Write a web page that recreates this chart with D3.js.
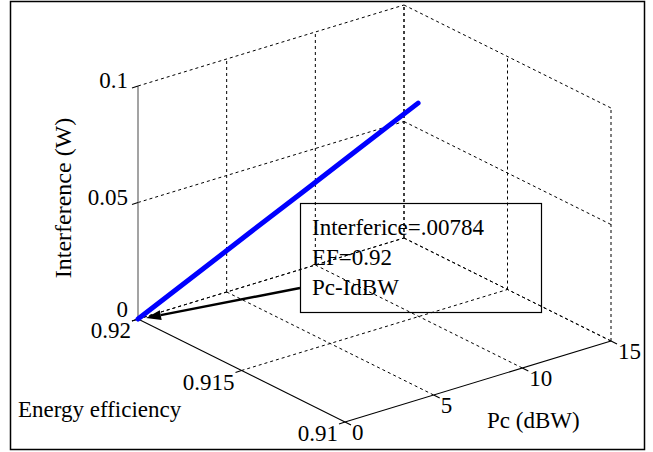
<!DOCTYPE html>
<html><head><meta charset="utf-8">
<script src="https://cdn.jsdelivr.net/npm/d3@7"></script>
<style>
html,body{margin:0;padding:0;background:#fff;}
</style></head>
<body><svg id="chart" width="653" height="452"></svg>
<script>
// ---- data ----
const pcTicks = [0, 5, 10, 15];
const efTicks = [0.92, 0.915, 0.91];
const intTicks = [0, 0.05, 0.1];
const pcTickLabels = ["0", "5", "10", "15"];
const efTickLabels = ["0.92", "0.915", "0.91"];
const intTickLabels = ["0", "0.05", "0.1"];
const seriesPc = [0, 3, 6, 9, 12, 15];
const seriesEf = [0.92, 0.91986, 0.91973, 0.91959, 0.91946, 0.91932];
const seriesInt = [0, 0.0122, 0.0244, 0.0365, 0.0487, 0.0609];
const annotationLines = ["Interferice=.00784", "EF=0.92", "Pc-IdBW"];
const xLabel = "Pc (dBW)", yLabel = "Energy efficiency", zLabel = "Interference (W)";

const FONT = "'Liberation Serif', 'Times New Roman', Tinos, 'DejaVu Serif', serif";

// ---- projection (orthographic, via linear scales) ----
const origin = [138, 319];
const efS = d3.scaleLinear().domain([0.92, 0.91]).range([0, 1]);
const pcS = d3.scaleLinear().domain([0, 15]).range([0, 1]);
const inS = d3.scaleLinear().domain([0, 0.1]).range([0, 1]);
const vEf = [207, 103], vPc = [266, -81], vIn = [0, -233];
function P(pc, ef, it) {
  const a = efS(ef), b = pcS(pc), c = inS(it);
  return [origin[0] + a * vEf[0] + b * vPc[0] + c * vIn[0],
          origin[1] + a * vEf[1] + b * vPc[1] + c * vIn[1]];
}

const svg = d3.select("#chart");
svg.append("rect").attr("x", 10.5).attr("y", 1.5).attr("width", 634).attr("height", 448)
  .attr("fill", "#fff").attr("stroke", "#000").attr("stroke-width", 1.5);

const g = svg.append("g");
const line = d3.line();
const efMin = d3.min(efTicks), efMax = d3.max(efTicks);
const pcMin = d3.min(pcTicks), pcMax = d3.max(pcTicks);
const inMin = d3.min(intTicks), inMax = d3.max(intTicks);

function txt(x, y, s, anchor, size) {
  return g.append("text").attr("x", x).attr("y", y).attr("text-anchor", anchor || "start")
    .attr("font-family", FONT).attr("font-size", size || 23).attr("fill", "#000").text(s);
}
function seg(p1, p2, cls) {
  g.append("path").attr("d", line([p1, p2])).attr("fill", "none")
    .attr("stroke", "#000").attr("stroke-width", cls === "grid" ? 1 : 1.1)
    .attr("stroke-dasharray", cls === "grid" ? "3,3" : null);
}
// grid: back wall (EF = max)
pcTicks.filter(p => p > pcMin).forEach(p => seg(P(p, efMax, inMin), P(p, efMax, inMax), "grid"));
intTicks.forEach(v => seg(P(pcMin, efMax, v), P(pcMax, efMax, v), "grid"));
// grid: right wall (Pc = max)
efTicks.forEach(e => seg(P(pcMax, e, inMin), P(pcMax, e, inMax), "grid"));
intTicks.forEach(v => seg(P(pcMax, efMax, v), P(pcMax, efMin, v), "grid"));
// grid: floor
pcTicks.filter(p => p > pcMin).forEach(p => seg(P(p, efMax, inMin), P(p, efMin, inMin), "grid"));
efTicks.filter(e => e > efMin).forEach(e => seg(P(pcMin, e, inMin), P(pcMax, e, inMin), "grid"));

// axes
g.append("path").attr("d", line([P(pcMin, efMax, inMin), P(pcMin, efMax, inMax)]))
  .attr("stroke", "#666").attr("stroke-width", 1.2).attr("fill", "none");
seg(P(pcMin, efMax, inMin), P(pcMin, efMin, inMin), "axis");
seg(P(pcMin, efMin, inMin), P(pcMax, efMin, inMin), "axis");

// ticks
intTicks.forEach((v, i) => {
  const p = P(pcMin, efMax, v);
  seg(p, [p[0] - 6, p[1] + 2], "axis");
  txt(128, i === 0 ? p[1] - 2 : p[1] + 2, intTickLabels[i], "end");
});
efTicks.forEach((e, i) => {
  const p = P(pcMin, e, inMin);
  seg(p, [p[0] - 6, p[1] + 2], "axis");
  txt(p[0] - 7, p[1] + 19, efTickLabels[i], "end");
});
pcTicks.forEach((pc, i) => {
  const p = P(pc, efMin, inMin);
  seg(p, [p[0] + 6, p[1] + 3], "axis");
  txt(p[0] + 7, p[1] + 18, pcTickLabels[i], "start");
});

// axis labels
g.append("text").attr("transform", "translate(71,198) rotate(-90)").attr("text-anchor", "middle")
  .attr("font-family", FONT).attr("font-size", 24).text(zLabel);
txt(18, 417, yLabel);
txt(487, 428, xLabel);

// series
const pts = seriesPc.map((pc, i) => P(pc, seriesEf[i], seriesInt[i]));
g.append("path").attr("d", line(pts)).attr("fill", "none").attr("stroke", "#0000ff")
  .attr("stroke-width", 5).attr("stroke-linecap", "round");

// annotation
g.append("rect").attr("x", 300.5).attr("y", 203.5).attr("width", 241).attr("height", 109)
  .attr("fill", "none").attr("stroke", "#000").attr("stroke-width", 1.2);
annotationLines.forEach((t, i) => txt(312, 235 + i * 30, t));
const tip = P(seriesPc[0], seriesEf[0], seriesInt[0]);
const tipPt = [tip[0] + 8, tip[1] - 1];
const startPt = [300, 288];
const ang = Math.atan2(tipPt[1] - startPt[1], tipPt[0] - startPt[0]);
const hl = 15, hw = 5;
const base = [tipPt[0] - hl * Math.cos(ang), tipPt[1] - hl * Math.sin(ang)];
g.append("path").attr("d", line([startPt, base])).attr("stroke", "#000").attr("stroke-width", 2.5).attr("fill", "none");
g.append("path").attr("d", line([tipPt,
  [base[0] + hw * Math.sin(ang), base[1] - hw * Math.cos(ang)],
  [base[0] - hw * Math.sin(ang), base[1] + hw * Math.cos(ang)]]) + "Z").attr("fill", "#000");
</script></body></html>
